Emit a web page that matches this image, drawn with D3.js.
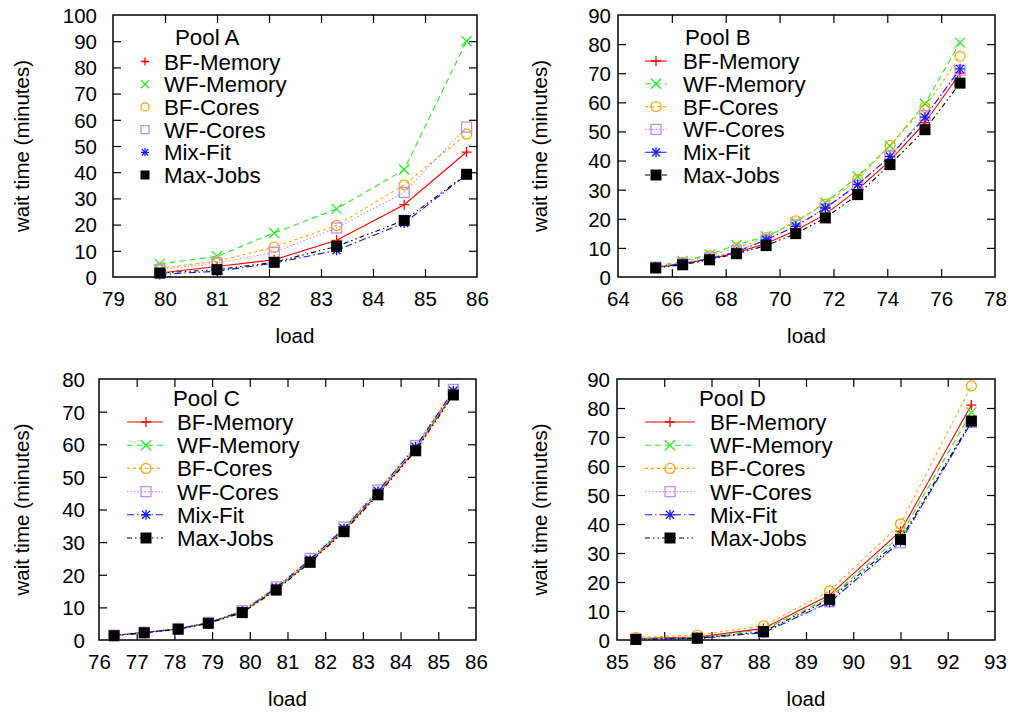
<!DOCTYPE html>
<html><head><meta charset="utf-8">
<script src="https://cdn.jsdelivr.net/npm/d3@7"></script>
<style>
body{margin:0;background:#fff}
text{font-family:"Liberation Sans",Arial,Helvetica,sans-serif;fill:#000}
</style>
</head><body>
<svg id="chart" width="1015" height="713"></svg>
<script>
// ---------------- DATA ----------------
const seriesNames = ["BF-Memory","WF-Memory","BF-Cores","WF-Cores","Mix-Fit","Max-Jobs"];
const poolTitles = ["Pool A","Pool B","Pool C","Pool D"];
const yAxisTitle = "wait time (minutes)";
const xAxisTitle = "load";

// Pool A
const loadA     = [79.9, 81.0, 82.1, 83.3, 84.6, 85.8];
const bfMemA    = [1.5, 4.0, 6.6, 14.0, 27.6, 47.7];
const wfMemA    = [5.0, 7.9, 16.8, 26.0, 41.0, 90.0];
const bfCoresA  = [3.4, 6.0, 11.4, 19.7, 35.2, 54.5];
const wfCoresA  = [2.8, 5.3, 9.4, 18.7, 32.3, 57.2];
const mixFitA   = [1.0, 2.2, 5.3, 10.2, 20.6, 39.0];
const maxJobsA  = [1.5, 2.8, 5.6, 11.7, 21.6, 39.2];
const xTicksA   = [79, 80, 81, 82, 83, 84, 85, 86];
const yTicksA   = [0, 10, 20, 30, 40, 50, 60, 70, 80, 90, 100];

// Pool B
const loadB     = [65.4, 66.4, 67.4, 68.4, 69.5, 70.6, 71.7, 72.9, 74.1, 75.4, 76.7];
const bfMemB    = [3.3, 4.5, 6.2, 8.3, 11.5, 16.0, 21.5, 30.0, 40.0, 53.0, 70.0];
const wfMemB    = [3.6, 5.5, 7.7, 11.0, 14.0, 18.8, 25.5, 34.5, 45.0, 59.5, 80.5];
const bfCoresB  = [3.5, 5.0, 7.3, 10.0, 13.5, 19.3, 25.0, 33.5, 45.2, 58.3, 75.8];
const wfCoresB  = [3.3, 4.7, 6.5, 9.0, 12.7, 17.8, 23.5, 31.5, 41.5, 55.5, 71.0];
const mixFitB   = [3.3, 4.6, 6.3, 8.6, 12.8, 17.4, 23.7, 31.7, 41.4, 54.9, 71.5];
const maxJobsB  = [3.1, 4.2, 5.9, 8.0, 10.8, 14.9, 20.3, 28.3, 38.6, 50.6, 66.6];
const xTicksB   = [64, 66, 68, 70, 72, 74, 76, 78];
const yTicksB   = [0, 10, 20, 30, 40, 50, 60, 70, 80, 90];

// Pool C
const loadC     = [76.4, 77.2, 78.1, 78.9, 79.8, 80.7, 81.6, 82.5, 83.4, 84.4, 85.4];
const bfMemC    = [1.4, 2.3, 3.4, 5.2, 8.6, 15.6, 24.1, 33.6, 44.9, 58.4, 75.6];
const wfMemC    = [1.4, 2.3, 3.4, 5.3, 8.8, 15.9, 24.5, 34.1, 45.5, 59.0, 76.3];
const bfCoresC  = [1.3, 2.2, 3.3, 5.1, 8.5, 15.5, 24.0, 33.4, 44.7, 58.2, 75.4];
const wfCoresC  = [1.5, 2.4, 3.5, 5.4, 9.0, 16.3, 25.0, 34.6, 46.0, 59.6, 76.8];
const mixFitC   = [1.4, 2.3, 3.4, 5.3, 8.8, 16.0, 24.6, 34.2, 45.6, 59.2, 76.4];
const maxJobsC  = [1.3, 2.2, 3.3, 5.1, 8.4, 15.3, 23.8, 33.2, 44.5, 58.0, 75.1];
const xTicksC   = [76, 77, 78, 79, 80, 81, 82, 83, 84, 85, 86];
const yTicksC   = [0, 10, 20, 30, 40, 50, 60, 70, 80];

// Pool D
const loadD     = [85.4, 86.7, 88.1, 89.5, 91.0, 92.5];
const bfMemD    = [0.5, 1.0, 4.0, 15.5, 37.5, 81.0];
const wfMemD    = [0.4, 0.8, 3.5, 14.5, 36.0, 78.5];
const bfCoresD  = [0.9, 1.7, 4.9, 16.9, 40.0, 87.6];
const wfCoresD  = [0.3, 0.6, 2.7, 13.2, 33.5, 75.0];
const mixFitD   = [0.2, 0.5, 2.5, 13.0, 34.0, 75.0];
const maxJobsD  = [0.2, 0.6, 2.9, 14.0, 34.7, 75.5];
const xTicksD   = [85, 86, 87, 88, 89, 90, 91, 92, 93];
const yTicksD   = [0, 10, 20, 30, 40, 50, 60, 70, 80, 90];

// ---------------- STYLE / LAYOUT ----------------
const styles = [
  {color:"#ff0000", dash:null,             marker:"plus"},
  {color:"#22ee22", dash:"6,4",            marker:"cross"},
  {color:"#ffa500", dash:"3,3",            marker:"circle"},
  {color:"#c08cf0", dash:"1.5,2",          marker:"square"},
  {color:"#1414ff", dash:"7,3,1.5,3",      marker:"star"},
  {color:"#000000", dash:"5,3,1.5,3,1.5,3",marker:"filled"}
];

const panels = [
  {title:poolTitles[0], x:loadA, ys:[bfMemA,wfMemA,bfCoresA,wfCoresA,mixFitA,maxJobsA],
   xt:xTicksA, yt:yTicksA, box:[113,15,477,277], labGap:16, yTitleX:22,
   leg:{titleX:175, titleY:45, y0:61.5, dy:22.7, l0:null, l1:null, mx:145, tx:164, ms:4}},
  {title:poolTitles[1], x:loadB, ys:[bfMemB,wfMemB,bfCoresB,wfCoresB,mixFitB,maxJobsB],
   xt:xTicksB, yt:yTicksB, box:[618,15,995,277], labGap:7, yTitleX:540,
   leg:{titleX:685, titleY:45, y0:61, dy:22.8, l0:645, l1:667, mx:656, tx:683, ms:5}},
  {title:poolTitles[2], x:loadC, ys:[bfMemC,wfMemC,bfCoresC,wfCoresC,mixFitC,maxJobsC],
   xt:xTicksC, yt:yTicksC, box:[99,379,476,640], labGap:14, yTitleX:22,
   leg:{titleX:173, titleY:406, y0:422, dy:23.2, l0:127, l1:163, mx:146, tx:177, ms:5}},
  {title:poolTitles[3], x:loadD, ys:[bfMemD,wfMemD,bfCoresD,wfCoresD,mixFitD,maxJobsD],
   xt:xTicksD, yt:yTicksD, box:[617,379,995,640], labGap:7, yTitleX:540,
   leg:{titleX:699, titleY:406, y0:422, dy:23.2, l0:645, l1:695, mx:670, tx:710, ms:5}}
];

const svg = d3.select("#chart");
const FS = 20.5, LFS = 22.3;

function drawMarker(g, type, cx, cy, s, color){
  const st = {stroke:color, "stroke-width":1.3, fill:"none"};
  const add = (sel)=>{ for(const k in st) sel.attr(k, st[k]); return sel; };
  if(type==="plus"||type==="star"){
    add(g.append("path").attr("d",`M${cx-s},${cy}H${cx+s}M${cx},${cy-s}V${cy+s}`));
  }
  if(type==="cross"||type==="star"){
    const d = type==="star"? s*0.8 : s;
    add(g.append("path").attr("d",`M${cx-d},${cy-d}L${cx+d},${cy+d}M${cx-d},${cy+d}L${cx+d},${cy-d}`));
  }
  if(type==="circle") add(g.append("circle").attr("cx",cx).attr("cy",cy).attr("r",s));
  if(type==="square") add(g.append("rect").attr("x",cx-s).attr("y",cy-s).attr("width",2*s).attr("height",2*s));
  if(type==="filled") g.append("rect").attr("x",cx-s-0.5).attr("y",cy-s-0.5).attr("width",2*s+1).attr("height",2*s+1).attr("fill",color);
}

panels.forEach(p=>{
  const [x0,y0,x1,y1] = p.box;
  const xs = d3.scaleLinear().domain([p.xt[0], p.xt[p.xt.length-1]]).range([x0,x1]);
  const ys = d3.scaleLinear().domain([p.yt[0], p.yt[p.yt.length-1]]).range([y1,y0]);
  const g = svg.append("g");

  const tl = 8;
  const axB = g.append("g").attr("transform",`translate(0,${y1})`)
    .call(d3.axisBottom(xs).tickValues(p.xt).tickSize(-tl).tickPadding(14).tickFormat(d3.format("d")));
  const axT = g.append("g").attr("transform",`translate(0,${y0})`)
    .call(d3.axisTop(xs).tickValues(p.xt).tickSize(-tl).tickFormat(""));
  const axL = g.append("g").attr("transform",`translate(${x0},0)`)
    .call(d3.axisLeft(ys).tickValues(p.yt).tickSize(-tl).tickPadding(p.labGap).tickFormat(d3.format("d")));
  const axR = g.append("g").attr("transform",`translate(${x1},0)`)
    .call(d3.axisRight(ys).tickValues(p.yt).tickSize(-tl).tickFormat(""));
  [axB,axT,axL,axR].forEach(a=>{
    a.select(".domain").remove();
    a.selectAll(".tick line").attr("stroke","#000").attr("stroke-width",1.2);
    a.selectAll("text").style("font-size",FS+"px").attr("fill","#000")
      .style("font-family","'Liberation Sans',Arial,sans-serif");
  });
  axB.selectAll("text").attr("dy","0.71em");
  axL.selectAll("text").attr("dy","0.36em");
  [axB,axT].forEach(a=>a.selectAll(".tick").filter(d=>d===p.xt[0]||d===p.xt[p.xt.length-1]).select("line").remove());
  [axL,axR].forEach(a=>a.selectAll(".tick").filter(d=>d===p.yt[0]||d===p.yt[p.yt.length-1]).select("line").remove());

  g.append("rect").attr("x",x0).attr("y",y0).attr("width",x1-x0).attr("height",y1-y0)
    .attr("fill","none").attr("stroke","#000").attr("stroke-width",1.5);

  g.append("text").attr("x",(x0+x1)/2).attr("y",y1+66).attr("text-anchor","middle")
    .style("font-size",FS+"px").text(xAxisTitle);
  g.append("text").attr("transform",`translate(${p.yTitleX+7},${(y0+y1)/2}) rotate(-90)`)
    .attr("text-anchor","middle").style("font-size",FS+"px").text(yAxisTitle);

  const line = d3.line().x(d=>xs(d[0])).y(d=>ys(d[1]));
  p.ys.forEach((vals,i)=>{
    const st = styles[i];
    const pts = p.x.map((xv,j)=>[xv, vals[j]]);
    g.append("path").attr("d",line(pts)).attr("fill","none").attr("stroke",st.color)
      .attr("stroke-width",1.1).attr("stroke-dasharray",st.dash);
    const mg = g.append("g");
    pts.forEach(d=>drawMarker(mg, st.marker, xs(d[0]), ys(d[1]), 5, st.color));
  });

  const L = p.leg;
  g.append("text").attr("x",L.titleX).attr("y",L.titleY).style("font-size",LFS+"px").text(p.title);
  seriesNames.forEach((nm,i)=>{
    const st = styles[i];
    const cy = L.y0 + i*L.dy;
    if(L.l0!==null){
      g.append("line").attr("x1",L.l0).attr("x2",L.l1).attr("y1",cy).attr("y2",cy)
        .attr("stroke",st.color).attr("stroke-width",1.1).attr("stroke-dasharray",st.dash);
    }
    drawMarker(g, st.marker, L.mx, cy, L.ms, st.color);
    g.append("text").attr("x",L.tx).attr("y",cy).attr("dy","0.36em")
      .style("font-size",LFS+"px").text(nm);
  });
});
</script>
</body></html>
